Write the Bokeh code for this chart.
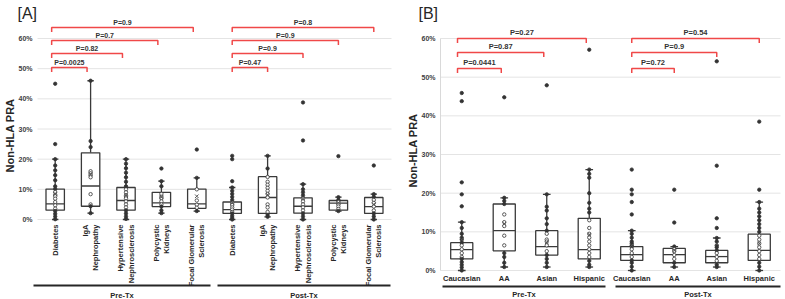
import math
from bokeh.plotting import figure
from bokeh.layouts import row
from bokeh.models import Range1d
from bokeh.core.properties import value
from bokeh.embed import file_html
from bokeh.resources import INLINE

FONT = "Liberation Sans"
INK = "#262626"
BOX = "#3a3a3a"
RED = "#f04848"
GRID = "#e4e4e4"

y_ticks = [0, 10, 20, 30, 40, 50, 60]
group_labels = ["Pre-Tx", "Post-Tx"]

# ---------------- Panel [A]: primary renal disease ----------------
a_categories = ["Diabetes", "IgA\nNephropathy", "Hypertensive\nNephrosclerosis",
                "Polycystic\nKidneys", "Focal Glomerular\nSclerosis"]

a_pre_q1 = [3.1, 4.4, 3.1, 4.3, 3.7]
a_pre_med = [5.2, 11.1, 6.3, 5.5, 5.2]
a_pre_q3 = [10.1, 22.1, 10.6, 9.0, 10.1]
a_pre_lo = [0.0, 2.1, 0.0, 2.1, 2.8]
a_pre_hi = [20.0, 46.0, 20.0, 12.7, 13.8]
a_pre_mean = [8.5, 15.0, 8.0, 7.4, 7.7]
a_pre_points = [
    [45, 25, 20, 17.9, 16.3, 14.7, 13, 11, 10.1, 9.1, 8.2, 7.7, 6.9, 5.8, 4.7, 3.6, 2.8, 1.9, 1.0, 0.1],
    [46, 26, 24, 16, 15.3, 14.7, 14, 8.4, 5, 4.4, 2.1],
    [20, 18.5, 17, 15.5, 14, 12.5, 11, 10, 9, 8, 7.5, 7, 6, 5, 4, 3, 2, 1, 0.2],
    [16.9, 12.7, 11, 8.5, 7.5, 7, 6, 5, 4.3, 3, 2.1],
    [23.2, 13.8, 10, 6.3, 4.9, 3.9, 2.8],
]

a_post_q1 = [2.0, 2.0, 2.1, 3.1, 2.0]
a_post_med = [3.3, 7.3, 4.4, 5.4, 4.3]
a_post_q3 = [5.8, 14.2, 7.2, 6.3, 7.3]
a_post_lo = [0.0, 0.9, 0.0, 2.8, 0.0]
a_post_hi = [10.6, 21.1, 11.7, 7.4, 8.4]
a_post_mean = [5.5, 8.2, 7.0, 5.5, 5.0]
a_post_points = [
    [21.1, 20, 12.7, 10.6, 9.5, 8.5, 7.5, 6.5, 5.5, 4.8, 4, 3.3, 2.5, 2, 1.2, 0.5, 0],
    [21.1, 16.9, 14.1, 12.5, 11.5, 10.5, 9.5, 8.5, 7.3, 5, 4, 2.5, 1.5, 0.9],
    [38.8, 26.2, 11.7, 10, 9, 8, 7, 6, 5, 4, 3, 2, 1, 0],
    [21, 7.4, 6.5, 5.8, 5, 4.3, 3.5, 2.8],
    [17.9, 8.4, 7.5, 6.5, 5.5, 4.3, 3, 2, 1, 0],
]

a_pre_pvalues = ["P=0.0025", "P=0.82", "P=0.7", "P=0.9"]
a_post_pvalues = ["P=0.47", "P=0.9", "P=0.9", "P=0.8"]

# ---------------- Panel [B]: ethnicity ----------------
b_categories = ["Caucasian", "AA", "Asian", "Hispanic"]

b_pre_q1 = [3.0, 5.1, 4.0, 3.0]
b_pre_med = [5.4, 10.3, 6.2, 5.4]
b_pre_q3 = [7.2, 17.2, 10.3, 13.5]
b_pre_lo = [0.0, 0.9, 0.9, 0.9]
b_pre_hi = [12.5, 18.8, 19.7, 26.1]
b_pre_mean = [8.0, 12.1, 7.3, 9.3]
b_pre_points = [
    [45.9, 43.8, 22.8, 19.7, 16.6, 12.5, 11, 9.5, 8.5, 8, 7.2, 6.5, 5.5, 4.5, 3.5, 3, 2.2, 1.5, 0.8, 0],
    [44.8, 18.8, 18, 17.2, 14.5, 12.5, 11.5, 9, 6.5, 4.5, 3.5, 2, 0.9],
    [47.9, 19.7, 16.5, 15.5, 13.5, 12, 10.3, 9.5, 8, 7.5, 6.5, 5, 4, 3, 2, 0.9],
    [57.1, 26.1, 25, 24, 20, 17.5, 16, 15, 13, 11, 9.5, 8.5, 7.5, 6.5, 5.5, 4.5, 3.5, 2.5, 1.5, 0.9],
]

b_post_q1 = [2.6, 2.0, 2.0, 2.6]
b_post_med = [4.1, 4.1, 3.6, 5.2]
b_post_q3 = [6.2, 5.7, 5.2, 9.4]
b_post_lo = [0.0, 0.9, 0.9, 0.0]
b_post_hi = [10.3, 6.2, 8.4, 17.7]
b_post_mean = [6.5, 5.2, 6.9, 7.0]
b_post_points = [
    [26.1, 20.9, 19.7, 17.7, 14.5, 10.3, 9.5, 8.5, 7.5, 7, 6.5, 6.2, 5.5, 4.5, 3.5, 2.6, 2, 1, 0],
    [20.9, 12.4, 6.2, 5.5, 5, 4, 3, 2, 0.9],
    [54.1, 27.1, 13.5, 11.0, 8.4, 7.5, 6.5, 6, 5.2, 4.5, 3.5, 2.5, 1.5, 0.9],
    [38.5, 20.9, 17.7, 16, 15, 14, 13, 12, 11, 10, 9, 8, 7, 6, 5, 4, 3, 2, 1, 0],
]

b_pre_pvalues = ["P=0.0441", "P=0.87", "P=0.27"]
b_post_pvalues = ["P=0.72", "P=0.9", "P=0.54"]

HEIGHT = 299


class Panel:
    """One figure whose plotting frame fills the whole canvas; px helpers map
    canvas pixels to data units so labels outside the box area can be placed."""

    def __init__(self, width, plot_left, plot_right, n, zero_px, top_px):
        self.n = n
        self.kx = (plot_right - plot_left) / n          # px per category
        self.ky = (zero_px - top_px) / 60.0              # px per percent
        self.plot_left = plot_left
        self.zero_px = zero_px
        p = figure(width=width, height=HEIGHT, output_backend="svg", toolbar_location=None,
                   x_axis_location=None, y_axis_location=None,
                   min_border_left=0, min_border_right=0, min_border_top=0, min_border_bottom=0)
        p.x_range = Range1d(self.x(0), self.x(width))
        p.y_range = Range1d(self.y(HEIGHT), self.y(0))
        p.outline_line_color = None
        p.background_fill_color = "white"
        p.border_fill_color = "white"
        p.grid.visible = False
        self.p = p

    def x(self, px):
        return 0.5 + (px - self.plot_left) / self.kx

    def y(self, py):
        return (self.zero_px - py) / self.ky

    def value_axis(self, axis_line=None):
        p = self.p
        n = self.n
        p.segment(x0=[0.5] * len(y_ticks), y0=y_ticks, x1=[n + 0.5] * len(y_ticks), y1=y_ticks,
                  line_color=GRID, line_width=1)
        if axis_line:
            p.segment(x0=[0.5], y0=[y_ticks[0]], x1=[0.5], y1=[y_ticks[-1]],
                      line_color=axis_line, line_width=1)
        p.text(x=[self.x(self.plot_left - 5)] * len(y_ticks), y=y_ticks,
               text=["%d%%" % t for t in y_ticks], text_align="right", text_baseline="middle",
               text_font=value(FONT), text_font_size="7px", text_font_style="bold",
               text_color="#404040")

    def boxes(self, xs, q1, med, q3, lo, hi, mean, pts):
        p = self.p
        half, cap = 0.26, 0.09
        p.segment(x0=xs, y0=q3, x1=xs, y1=hi, line_color=BOX, line_width=1.3)
        p.segment(x0=xs, y0=lo, x1=xs, y1=q1, line_color=BOX, line_width=1.3)
        p.segment(x0=[x - cap for x in xs], y0=hi, x1=[x + cap for x in xs], y1=hi,
                  line_color=BOX, line_width=1.3)
        p.segment(x0=[x - cap for x in xs], y0=lo, x1=[x + cap for x in xs], y1=lo,
                  line_color=BOX, line_width=1.3)
        p.quad(left=[x - half for x in xs], right=[x + half for x in xs], bottom=q1, top=q3,
               fill_color="white", line_color=BOX, line_width=1.3)
        p.segment(x0=[x - half for x in xs], y0=med, x1=[x + half for x in xs], y1=med,
                  line_color=BOX, line_width=1.3)
        px, py, fills = [], [], []
        for x, vals, a, b in zip(xs, pts, q1, q3):
            for v in vals:
                px.append(x)
                py.append(v)
                fills.append("white" if a < v < b else "#333333")
        p.scatter(px, py, size=3.4, fill_color=fills, line_color="#333333", line_width=0.8)
        p.scatter(xs, mean, marker="x", size=5, line_color="#555555", line_width=1)

    def brackets(self, x_ref, x_targets, levels, labels, leg_px, font_size):
        p = self.p
        leg = leg_px / self.ky
        gap = 2.0 / self.ky
        xs = [[x_ref, x_ref, xt, xt] for xt in x_targets]
        ys = [[lv - leg, lv, lv, lv - leg] for lv in levels]
        p.multi_line(xs, ys, line_color=RED, line_width=1.5)
        p.text(x=[(x_ref + xt) / 2 for xt in x_targets], y=[lv + gap for lv in levels], text=labels,
               text_align="center", text_baseline="bottom", text_font=value(FONT),
               text_font_size=font_size, text_font_style="bold", text_color="#333333")

    def groups(self, spans_px, line_py, label_py):
        p = self.p
        x0 = [self.x(s[0]) for s in spans_px]
        x1 = [self.x(s[1]) for s in spans_px]
        p.segment(x0=x0, y0=[self.y(line_py)] * 2, x1=x1, y1=[self.y(line_py)] * 2,
                  line_color=INK, line_width=1.8)
        p.text(x=[(a + b) / 2 for a, b in zip(x0, x1)], y=[self.y(label_py)] * 2, text=group_labels,
               text_align="center", text_baseline="middle", text_font=value(FONT),
               text_font_size="7.5px", text_font_style="bold", text_color=INK)

    def titles(self, tag, tag_px, title_px):
        p = self.p
        p.text(x=[self.x(tag_px[0])], y=[self.y(tag_px[1])], text=[tag], text_align="left",
               text_baseline="middle", text_font=value(FONT), text_font_size="16px",
               text_color=INK)
        p.text(x=[self.x(title_px[0])], y=[self.y(title_px[1])], text=["Non-HLA PRA"],
               angle=math.pi / 2, text_align="center", text_baseline="middle",
               text_font=value(FONT), text_font_size="11px", text_font_style="bold",
               text_color=INK)


# ---- panel A ----
na = len(a_categories)
A = Panel(395, 37, 391, 2 * na, 219, 38)
A.value_axis()
xa_pre = [i + 1 for i in range(na)]
xa_post = [i + 1 + na for i in range(na)]
A.boxes(xa_pre, a_pre_q1, a_pre_med, a_pre_q3, a_pre_lo, a_pre_hi, a_pre_mean, a_pre_points)
A.boxes(xa_post, a_post_q1, a_post_med, a_post_q3, a_post_lo, a_post_hi, a_post_mean, a_post_points)
a_levels = [A.y(67), A.y(53), A.y(40), A.y(27)]
A.brackets(xa_pre[0] - 0.1, [x - 0.1 for x in xa_pre[1:]], a_levels, a_pre_pvalues, 4.5, "7px")
A.brackets(xa_post[0], xa_post[1:], a_levels, a_post_pvalues, 4.5, "7px")
A.p.text(x=xa_pre + xa_post, y=[A.y(224)] * (2 * na), text=a_categories * 2, angle=math.pi / 2,
         text_align="right", text_baseline="middle", text_font=value(FONT), text_font_size="7.5px",
         text_font_style="bold", text_color=INK, text_line_height=1.15)
A.groups([(33, 210), (217, 390)], 285, 295)
A.titles("[A]", (17, 13), (9, 135))

# ---- panel B (canvas starts at x=395) ----
nb = len(b_categories)
B = Panel(390, 45, 385, 2 * nb, 270, 38)
B.value_axis(axis_line="#d9d9d9")
xb_pre = [i + 1 for i in range(nb)]
xb_post = [i + 1 + nb for i in range(nb)]
B.boxes(xb_pre, b_pre_q1, b_pre_med, b_pre_q3, b_pre_lo, b_pre_hi, b_pre_mean, b_pre_points)
B.boxes(xb_post, b_post_q1, b_post_med, b_post_q3, b_post_lo, b_post_hi, b_post_mean, b_post_points)
b_levels = [B.y(68), B.y(52), B.y(38)]
B.brackets(xb_pre[0] - 0.1, [x - 0.07 for x in xb_pre[1:]], b_levels, b_pre_pvalues, 4.5, "7.5px")
B.brackets(xb_post[0], xb_post[1:], b_levels, b_post_pvalues, 4.5, "7.5px")
B.p.text(x=xb_pre + xb_post, y=[B.y(278)] * (2 * nb), text=b_categories * 2,
         text_align="center", text_baseline="middle", text_font=value(FONT), text_font_size="7.5px",
         text_font_style="bold", text_color=INK)
B.groups([(47, 210), (220, 385)], 286, 294)
B.titles("[B]", (23, 13), (17, 150))

layout = row(A.p, B.p)
open("out.html", "w").write(file_html(layout, INLINE))
